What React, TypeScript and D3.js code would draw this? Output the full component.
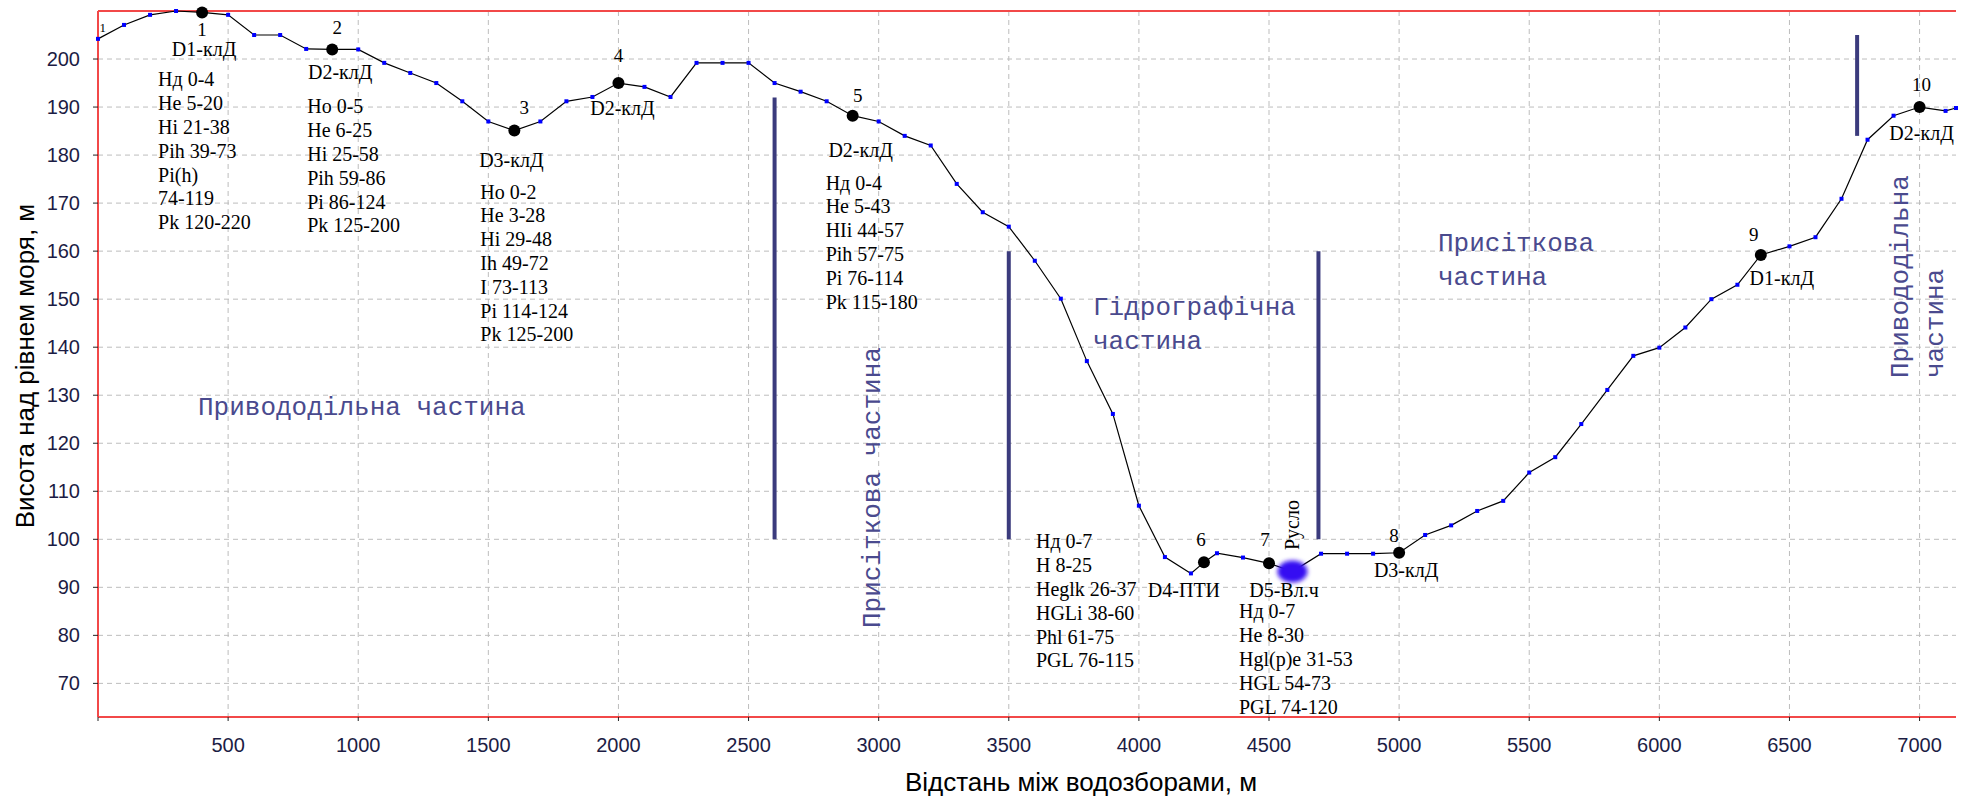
import React from 'react';
import * as d3 from 'd3';

// profile: distance (m) -> elevation (m)
const distances = [
  0, 100, 200, 300, 400, 500, 600, 700, 800, 900, 1000, 1100, 1200, 1300, 1400, 1500,
  1600, 1700, 1800, 1900, 2000, 2100, 2200, 2300, 2400, 2500, 2600, 2700, 2800, 2900,
  3000, 3100, 3200, 3300, 3400, 3500, 3600, 3700, 3800, 3900, 4000, 4100, 4200, 4250,
  4300, 4400, 4500, 4590, 4700, 4800, 4900, 5000, 5100, 5200, 5300, 5400, 5500, 5600,
  5700, 5800, 5900, 6000, 6100, 6200, 6300, 6390, 6500, 6600, 6700, 6800, 6900, 7000,
  7100, 7140,
];
const elevations = [
  204.2, 207.1, 209.2, 210.0, 209.7, 209.2, 205.0, 205.0, 202.1, 202.0, 202.0, 199.2, 197.1, 195.0, 191.2, 187.0,
  185.1, 187.0, 191.2, 192.1, 195.0, 194.2, 192.1, 199.2, 199.2, 199.2, 195.0, 193.2, 191.2, 188.2,
  187.0, 184.0, 182.0, 174.0, 168.1, 165.1, 158.0, 150.1, 137.1, 126.1, 107.0, 96.3, 92.9, 95.2,
  97.1, 96.2, 95.0, 93.3, 97.0, 97.0, 97.0, 97.2, 100.9, 102.9, 105.9, 108.0, 113.9, 117.1,
  124.0, 131.1, 138.2, 139.9, 144.1, 150.0, 153.0, 159.2, 161.0, 162.9, 170.9, 183.2, 188.2, 190.0,
  189.2, 189.8,
];

// soil pits
const pitNumbers = ['1', '2', '3', '4', '5', '6', '7', '8', '9', '10'];
const pitDistances = [400, 900, 1600, 2000, 2900, 4250, 4500, 5000, 6390, 7000];
const pitCodes = ['D1-клД', 'D2-клД', 'D3-клД', 'D2-клД', 'D2-клД', 'D4-ПТИ', 'D5-Вл.ч', 'D3-клД', 'D1-клД', 'D2-клД'];
const pitHorizons = [
  ['Нд 0-4', 'He 5-20', 'Hi 21-38', 'Pih 39-73', 'Pi(h)', '74-119', 'Pk 120-220'],
  ['Ho 0-5', 'He 6-25', 'Hi 25-58', 'Pih 59-86', 'Pi 86-124', 'Pk 125-200'],
  ['Ho 0-2', 'He 3-28', 'Hi 29-48', 'Ih 49-72', 'I 73-113', 'Pi 114-124', 'Pk 125-200'],
  [],
  ['Нд 0-4', 'He 5-43', 'HIi 44-57', 'Pih 57-75', 'Pi 76-114', 'Pk 115-180'],
  ['Нд 0-7', 'H 8-25', 'Heglk 26-37', 'HGLi 38-60', 'Phl 61-75', 'PGL 76-115'],
  ['Нд 0-7', 'He 8-30', 'Hgl(p)e 31-53', 'HGL 54-73', 'PGL 74-120'],
  [],
  [],
  [],
];

// river channel
const riverDistance = 4590;
const riverElevation = 93.3;
const riverLabel = 'Русло';

// boundaries between landscape parts
const dividerDistances = [2600, 3500, 4690, 6760];
const dividerTops = [192, 160, 160, 205];
const dividerBottoms = [100, 100, 100, 184];

const xTicks = [500, 1000, 1500, 2000, 2500, 3000, 3500, 4000, 4500, 5000, 5500, 6000, 6500, 7000];
const yTicks = [70, 80, 90, 100, 110, 120, 130, 140, 150, 160, 170, 180, 190, 200];

const xTitle = 'Відстань між водозборами, м';
const yTitle = 'Висота над рівнем моря, м';

// label placement (pixel offsets from each pit dot)
const pitLabelLayout = [
  { num: [0, 24], code: [2, 44], hor: [-44, 74] },
  { num: [5, -15], code: [8, 30], hor: [-25, 64] },
  { num: [10, -17], code: [-3, 36], hor: [-34, 68] },
  { num: [0, -21], code: [4, 32], hor: [0, 0] },
  { num: [5, -14], code: [8, 41], hor: [-27, 74] },
  { num: [-3, -16], code: [-20, 35], hor: [-168, -14] },
  { num: [-4, -17], code: [15, 34], hor: [-30, 55] },
  { num: [-5, -11], code: [7, 24], hor: [0, 0] },
  { num: [-7, -14], code: [21, 30], hor: [0, 0] },
  { num: [2, -16], code: [2, 33], hor: [0, 0] },
];

const W = 1968;
const H = 800;
const plot = { left: 98, right: 1956, top: 11, bottom: 717 };

const serif = '"Liberation Serif", "Times New Roman", serif';
const sans = '"Liberation Sans", Arial, sans-serif';
const mono = '"Liberation Mono", "Courier New", monospace';
const regionColor = '#4a4a8e';
const tickColor = '#1c1c44';

const App = () => {
  const x = d3.scaleLinear().domain([0, 7140]).range([plot.left, plot.right]);
  const y = d3.scaleLinear().domain([63, 210]).range([plot.bottom, plot.top]);

  const pts: [number, number][] = distances.map((d, i) => [d, elevations[i]]);
  const line = d3.line<[number, number]>().x(d => x(d[0])).y(d => y(d[1]));

  const elevAt = (d: number) => elevations[distances.indexOf(d)];

  return (
    <svg width={W} height={H} style={{ position: 'absolute', left: 0, top: 0, background: '#fff' }}>
      <defs>
        <filter id="blur" x="-50%" y="-50%" width="200%" height="200%">
          <feGaussianBlur stdDeviation="2" />
        </filter>
      </defs>

      {/* grid */}
      <g stroke="#bdbdbd" strokeWidth={1} strokeDasharray="5,4">
        {xTicks.map(t => (
          <line key={'gx' + t} x1={x(t)} x2={x(t)} y1={plot.top} y2={plot.bottom} />
        ))}
        {yTicks.map(t => (
          <line key={'gy' + t} x1={plot.left} x2={plot.right} y1={y(t)} y2={y(t)} />
        ))}
      </g>

      {/* axes frame */}
      <g stroke="#f24848" strokeWidth={2}>
        <line x1={plot.left} x2={plot.right} y1={plot.top} y2={plot.top} />
        <line x1={plot.left} x2={plot.left} y1={plot.top} y2={plot.bottom} />
        <line x1={plot.left} x2={plot.right} y1={plot.bottom} y2={plot.bottom} />
      </g>

      {/* ticks */}
      <g stroke="#222" strokeWidth={1}>
        {[0, ...xTicks].map(t => (
          <line key={'tx' + t} x1={x(t)} x2={x(t)} y1={plot.bottom} y2={plot.bottom + 4} />
        ))}
        {yTicks.map(t => (
          <line key={'ty' + t} x1={plot.left - 5} x2={plot.left} y1={y(t)} y2={y(t)} />
        ))}
      </g>
      <g fontFamily={sans} fontSize={20} fill={tickColor}>
        {xTicks.map(t => (
          <text key={'lx' + t} x={x(t)} y={752} textAnchor="middle">{t}</text>
        ))}
        {yTicks.map(t => (
          <text key={'ly' + t} x={80} y={y(t) + 7} textAnchor="end">{t}</text>
        ))}
      </g>
      <text x={1081} y={791} textAnchor="middle" fontFamily={sans} fontSize={26} fill="#000">{xTitle}</text>
      <text transform="translate(34,366) rotate(-90)" textAnchor="middle" fontFamily={sans} fontSize={26} fill="#000">{yTitle}</text>

      {/* dividers */}
      <g stroke="#3b3b7d" strokeWidth={4}>
        {dividerDistances.map((d, i) => (
          <line key={'dv' + i} x1={x(d)} x2={x(d)} y1={y(dividerTops[i])} y2={y(dividerBottoms[i])} />
        ))}
      </g>

      {/* region labels */}
      <g fontFamily={mono} fontSize={26} fill={regionColor}>
        <text x={198} y={415}>Привододільна частина</text>
        <text transform="translate(880,628) rotate(-90)">Присіткова частина</text>
        <text x={1093} y={315}>Гідрографічна</text>
        <text x={1093} y={349}>частина</text>
        <text x={1438} y={251}>Присіткова</text>
        <text x={1438} y={285}>частина</text>
        <text transform="translate(1908,378) rotate(-90)">Привододільна</text>
        <text transform="translate(1943,378) rotate(-90)">частина</text>
      </g>

      {/* profile */}
      <path d={line(pts) || ''} fill="none" stroke="#000" strokeWidth={1.2} />
      <g fill="#0000ff">
        {pts.map((p, i) => (
          <rect key={'m' + i} x={x(p[0]) - 2} y={y(p[1]) - 2} width={4} height={4} />
        ))}
      </g>

      {/* river */}
      <ellipse cx={x(riverDistance)} cy={y(riverElevation)} rx={15} ry={11} fill="#3410f2" filter="url(#blur)" />
      <text transform={`translate(${x(riverDistance) + 7},550) rotate(-90)`} fontFamily={serif} fontSize={20} fill="#000">{riverLabel}</text>

      {/* soil pits */}
      <text x={99.5} y={32} fontFamily={serif} fontSize={13} fill="#000">1</text>
      {pitDistances.map((d, i) => {
        const cx = x(d);
        const cy = y(elevAt(d));
        const lay = pitLabelLayout[i];
        return (
          <g key={'pit' + i} fontFamily={serif} fill="#000">
            <circle cx={cx} cy={cy} r={6} fill="#000" />
            <text x={cx + lay.num[0]} y={cy + lay.num[1]} fontSize={19} textAnchor="middle">{pitNumbers[i]}</text>
            <text x={cx + lay.code[0]} y={cy + lay.code[1]} fontSize={20} textAnchor="middle">{pitCodes[i]}</text>
            {pitHorizons[i].map((h, j) => (
              <text key={j} x={cx + lay.hor[0]} y={cy + lay.hor[1] + j * 23.8} fontSize={20}>{h}</text>
            ))}
          </g>
        );
      })}
    </svg>
  );
};

export default App;
